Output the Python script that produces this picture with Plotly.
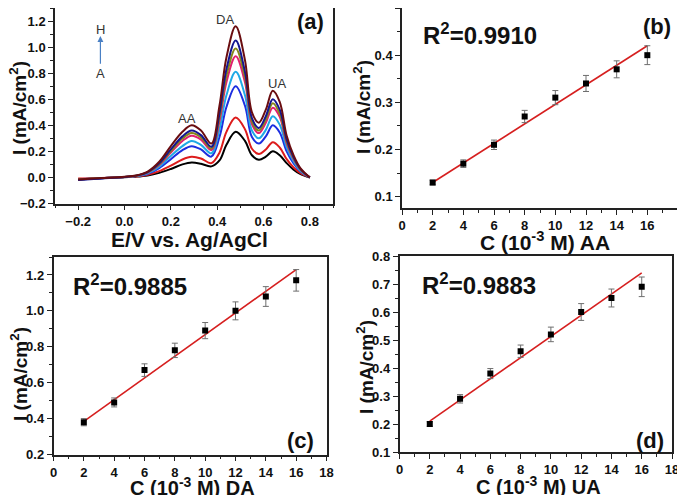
import plotly.graph_objects as go

# ---------------- data ----------------
# panel (a): DPV curves, potential (V) and current (mA/cm2)
potential = [-0.2, -0.1, 0.0, 0.05, 0.1, 0.15, 0.2, 0.25, 0.29, 0.33, 0.375, 0.41,
             0.44, 0.48, 0.52, 0.55, 0.58, 0.61, 0.64, 0.67, 0.70, 0.73, 0.76, 0.8]
curve_A = [-0.015, -0.006, 0.002, 0.006, 0.015, 0.035, 0.065, 0.10, 0.115, 0.105, 0.085, 0.13,
           0.25, 0.35, 0.28, 0.17, 0.135, 0.16, 0.20, 0.17, 0.11, 0.06, 0.025, 0.0]
curve_B = [-0.008, -0.004, 0.003, 0.007, 0.02, 0.048, 0.09, 0.138, 0.158, 0.145, 0.11, 0.19,
           0.35, 0.46, 0.37, 0.22, 0.18, 0.215, 0.27, 0.23, 0.14, 0.076, 0.032, 0.0]
curve_C = [-0.015, -0.006, 0.003, 0.01, 0.028, 0.072, 0.14, 0.21, 0.24, 0.215, 0.16, 0.31,
           0.54, 0.70, 0.55, 0.31, 0.26, 0.315, 0.40, 0.345, 0.20, 0.107, 0.045, 0.0]
curve_D = [-0.014, -0.005, 0.004, 0.011, 0.032, 0.083, 0.165, 0.24, 0.28, 0.25, 0.185, 0.37,
           0.63, 0.81, 0.63, 0.36, 0.30, 0.365, 0.47, 0.405, 0.23, 0.123, 0.05, 0.0]
curve_E = [-0.014, -0.005, 0.004, 0.012, 0.037, 0.096, 0.19, 0.28, 0.32, 0.29, 0.21, 0.43,
           0.73, 0.93, 0.73, 0.41, 0.34, 0.42, 0.535, 0.465, 0.26, 0.14, 0.058, 0.0]
curve_F = [-0.015, -0.005, 0.004, 0.013, 0.039, 0.102, 0.203, 0.298, 0.34, 0.307, 0.223, 0.46,
           0.78, 0.99, 0.77, 0.43, 0.36, 0.445, 0.57, 0.49, 0.275, 0.147, 0.06, 0.0]
curve_G = [-0.02, -0.008, 0.004, 0.014, 0.041, 0.108, 0.215, 0.315, 0.36, 0.325, 0.235, 0.49,
           0.83, 1.05, 0.81, 0.455, 0.38, 0.47, 0.60, 0.52, 0.29, 0.155, 0.064, 0.0]
curve_H = [-0.015, -0.005, 0.005, 0.015, 0.045, 0.12, 0.24, 0.35, 0.40, 0.36, 0.26, 0.55,
           0.92, 1.16, 0.90, 0.50, 0.42, 0.52, 0.665, 0.58, 0.32, 0.17, 0.07, 0.0]
curve_names = ["A", "B", "C", "D", "E", "F", "G", "H"]
curve_colors = ["#000000", "#dd1c1c", "#1c2ee0", "#1fa9e6", "#e2206f", "#86861a", "#141690", "#6a0d10"]

# panels (b)-(d): calibration
conc = [2, 4, 6, 8, 10, 12, 14, 16]
aa_current = [0.13, 0.17, 0.21, 0.27, 0.31, 0.34, 0.37, 0.40]
aa_error = [0.005, 0.008, 0.010, 0.013, 0.015, 0.017, 0.018, 0.020]
da_current = [0.38, 0.49, 0.67, 0.78, 0.89, 1.00, 1.08, 1.17]
da_error = [0.02, 0.025, 0.035, 0.04, 0.045, 0.05, 0.055, 0.06]
ua_current = [0.20, 0.29, 0.38, 0.46, 0.52, 0.60, 0.65, 0.69]
ua_error = [0.008, 0.015, 0.018, 0.022, 0.026, 0.03, 0.032, 0.035]

fit_conc = [2, 16]
aa_fit = [0.13, 0.42]
da_fit = [0.385, 1.23]
ua_fit = [0.21, 0.74]

r2_labels = ["R<sup>2</sup>=0.9910", "R<sup>2</sup>=0.9885", "R<sup>2</sup>=0.9883"]
xtitle_cv = "E/V vs. Ag/AgCl"
xtitle_conc = ["C (10<sup>-3</sup> M) AA", "C (10<sup>-3</sup> M) DA", "C (10<sup>-3</sup> M) UA"]
ytitle = "I (mA/cm<sup>2</sup>)"

# ---------------- figure ----------------
FONT = "Liberation Sans, Arial, sans-serif"
OFF = 8                      # page body margin offset
W, H = 685 - OFF, 495 - OFF

fig = go.Figure()

for name, col, ys in zip(curve_names, curve_colors,
                         [curve_A, curve_B, curve_C, curve_D, curve_E, curve_F, curve_G, curve_H]):
    fig.add_trace(go.Scatter(x=potential, y=ys, mode="lines", name=name,
                             line=dict(color=col, width=2, shape="spline", smoothing=1.0),
                             xaxis="x", yaxis="y", showlegend=False))

panels = [("x2", "y2", aa_current, aa_error, aa_fit),
          ("x3", "y3", da_current, da_error, da_fit),
          ("x4", "y4", ua_current, ua_error, ua_fit)]
for xa, ya, cur, err, fit in panels:
    fig.add_trace(go.Scatter(x=fit_conc, y=fit, mode="lines",
                             line=dict(color="#d61f1f", width=1.6),
                             xaxis=xa, yaxis=ya, showlegend=False))
    fig.add_trace(go.Scatter(x=conc, y=cur, mode="markers",
                             marker=dict(symbol="square", size=6, color="#000000"),
                             error_y=dict(type="data", array=err, visible=True,
                                          color="#6e6e6e", thickness=1, width=3),
                             xaxis=xa, yaxis=ya, showlegend=False))


def px2x(p):
    return (p - OFF) / W


def px2y(p):
    return 1 - (p - OFF) / H


tickfont = dict(family=FONT, size=13, color="#111111", weight="bold")
xtitlefont = dict(family=FONT, size=21, color="#111111", weight="bold")
xtitlefont_low = dict(family=FONT, size=20, color="#111111", weight="bold")
ytitlefont = dict(family=FONT, size=19, color="#111111", weight="bold")


def axis(domain, rng, dtick, minor_dtick, anchor, fmt):
    return dict(domain=domain, range=rng, dtick=dtick, tick0=0, anchor=anchor,
                automargin=False, tickformat=fmt,
                showline=True, linecolor="#222222", linewidth=1.5, mirror=True,
                ticks="outside", ticklen=5, tickwidth=1.2, tickcolor="#222222",
                minor=dict(ticks="outside", dtick=minor_dtick, ticklen=3, tickwidth=1.2,
                           tickcolor="#222222", showgrid=False),
                showgrid=False, zeroline=False, tickfont=tickfont)


fig.update_layout(
    width=W, height=H, margin=dict(l=0, r=0, t=0, b=0, autoexpand=False),
    paper_bgcolor="white", plot_bgcolor="white",
    xaxis=axis([px2x(55), px2x(333)], [-0.3, 0.9], 0.2, 0.1, "y", ".1f"),
    yaxis=axis([px2y(203.5), min(1.0, px2y(2))], [-0.2, 1.3], 0.2, 0.1, "x", ".1f"),
    xaxis2=axis([px2x(402), px2x(678)], [0, 18], 2, 1, "y2", "d"),
    yaxis2=axis([px2y(208), min(1.0, px2y(7))], [0.076, 0.5], 0.1, 0.05, "x2", ".1f"),
    xaxis3=axis([px2x(53.5), px2x(326.5)], [0, 18], 2, 1, "y3", "d"),
    yaxis3=axis([px2y(454.5), px2y(257)], [0.2, 1.3], 0.2, 0.1, "x3", ".1f"),
    xaxis4=axis([px2x(399.5), min(1.0, px2x(672))], [0, 18], 2, 1, "y4", "d"),
    yaxis4=axis([px2y(452), px2y(256)], [0.1, 0.8], 0.1, 0.05, "x4", ".1f"),
)

ann = []
lbl = dict(family=FONT, size=13, color="#333333")
for txt, x, y in [("AA", 0.27, 0.45), ("DA", 0.435, 1.21), ("UA", 0.657, 0.72),
                  ("H", -0.104, 1.135), ("A", -0.104, 0.8)]:
    ann.append(dict(x=x, y=y, xref="x", yref="y", text=txt, showarrow=False, font=lbl,
                    xanchor="center", yanchor="middle"))
ann.append(dict(x=-0.104, y=1.085, ax=-0.104, ay=0.86, xref="x", yref="y", axref="x", ayref="y",
                text="", showarrow=True, arrowhead=2, arrowsize=1, arrowwidth=1.2,
                arrowcolor="#4a80c4"))

bigfont = dict(family=FONT, size=22, color="#111111", weight="bold")
r2font = dict(family=FONT, size=24, color="#111111", weight="bold")


def paper_text(txt, x, y, font, angle=0):
    return dict(x=px2x(x), y=px2y(y), xref="paper", yref="paper", text=txt, textangle=angle,
                showarrow=False, font=font, xanchor="center", yanchor="middle")


for txt, x, y in [("(a)", 310, 21), ("(b)", 657, 27), ("(c)", 300, 440), ("(d)", 650, 440)]:
    ann.append(paper_text(txt, x, y, bigfont))
for txt, x, y in zip(r2_labels, [480, 130, 479], [34, 285, 284]):
    ann.append(paper_text(txt, x, y, r2font))

# axis titles
ann.append(paper_text(xtitle_cv, 189, 239, xtitlefont))
ann.append(paper_text(xtitle_conc[0], 545, 241, xtitlefont))
for txt, x, y in zip(xtitle_conc[1:], [192, 538], [486, 485]):
    ann.append(paper_text(txt, x, y, xtitlefont_low))
for x, y in [(18, 108), (362, 107), (19, 374), (365, 367)]:
    ann.append(paper_text(ytitle, x, y, ytitlefont, angle=-90))

fig.update_layout(annotations=ann)

fig.write_html("out.html")
